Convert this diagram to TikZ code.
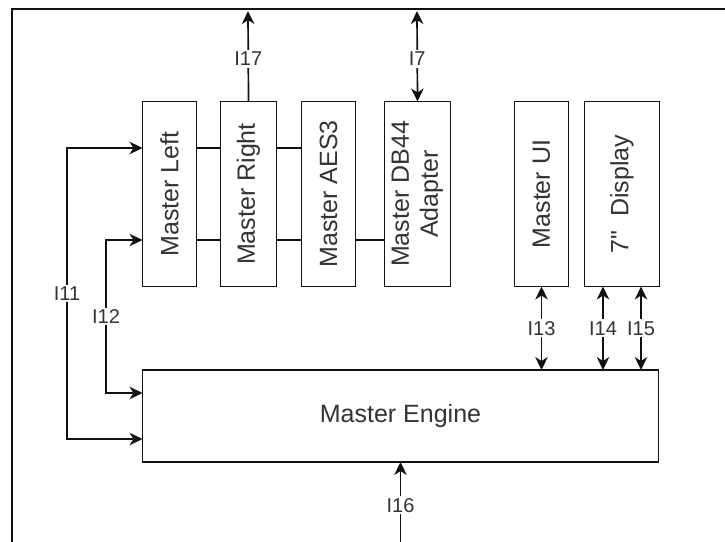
\documentclass[tikz,border=0pt]{standalone}
\usepackage{fontspec}
\setmainfont{Liberation Sans}[Ligatures=TeXOff]
\usepackage{graphicx}
\usetikzlibrary{arrows.meta,positioning}
\definecolor{hwInk}{HTML}{111111}
\definecolor{hwText}{HTML}{333333}
\tikzset{
  every picture/.style={font=\fontsize{25}{29}\selectfont, text=hwText},
  hw box/.style={draw=hwInk, line width=1.6pt, fill=white, align=center,
    inner sep=0pt, outer sep=0pt},
  hw tall/.style={hw box, minimum height=185pt},
  hw link/.style={draw=hwInk, line width=1.7pt},
  hw arrow/.style={hw link, -{Stealth[length=13pt,width=12.5pt,inset=4pt]}},
  hw both/.style={hw link, {Stealth[length=13pt,width=12.5pt,inset=4pt]}-{Stealth[length=13pt,width=12.5pt,inset=4pt]}},
  hw label/.style={fill=white, font=\fontsize{20}{24}\selectfont, inner sep=2pt},
  hw frame/.style={draw=hwInk, line width=2.5pt}
}

\begin{document}
\begin{tikzpicture}[x=1pt,y=-1pt]
  \useasboundingbox (0,0) rectangle (725,541);
  \draw[hw frame] (12,560) -- (12,9) -- (740,9);

  % top row of boards
  \node[hw tall, minimum width=54pt] (left) at (169.5,194) {\rotatebox{90}{Master Left}};
  \node[hw tall, minimum width=56pt, right=24pt of left] (right) {\rotatebox{90}{Master Right}};
  \node[hw tall, minimum width=54pt, right=25pt of right] (aes) {\rotatebox{90}{Master AES3}};
  \node[hw tall, minimum width=66pt, right=29pt of aes] (db) {\rotatebox{90}{\begin{tabular}{@{}c@{}}Master DB44\\Adapter\end{tabular}}};
  \node[hw tall, minimum width=54pt, right=64pt of db] (ui) {\rotatebox{90}{Master UI}};
  \node[hw tall, minimum width=75pt, right=16pt of ui] (disp) {\rotatebox{90}{7"\ \ Display}};
  \node[hw box, minimum width=516pt, minimum height=92pt] (engine) at (400.5,416) {Master Engine};

  \coordinate (rowA) at (0,148);
  \coordinate (rowB) at (0,240);
  \coordinate (engA) at (0,393);
  \coordinate (engB) at (0,439);
  \coordinate (bus11) at (67,0);
  \coordinate (bus12) at (106,0);
  \coordinate (out17) at (248,11);
  \coordinate (out7) at (417,11);
  \coordinate (in16) at (400.5,545);
  \coordinate (d14) at ([xshift=-19pt]disp.south);
  \coordinate (d15) at ([xshift=19pt]disp.south);

  % board to board
  \draw[hw link] (left.east |- rowA) -- (right.west |- rowA);
  \draw[hw link] (right.east |- rowA) -- (aes.west |- rowA);
  \draw[hw link] (left.east |- rowB) -- (right.west |- rowB);
  \draw[hw link] (right.east |- rowB) -- (aes.west |- rowB);
  \draw[hw link] (aes.east |- rowB) -- (db.west |- rowB);

  % interfaces
  \draw[hw arrow] (right.north) -- node[hw label, pos=0.47] (l17) {I17} (out17);
  \draw[hw both] (db.north) -- node[hw label, pos=0.47] (l7) {I7} (out7);
  \draw[hw both] (left.west |- rowA) -- (bus11 |- rowA) -- node[hw label] (l11) {I11} (bus11 |- engB) -- (engine.west |- engB);
  \draw[hw both] (left.west |- rowB) -- (bus12 |- rowB) -- node[hw label] (l12) {I12} (bus12 |- engA) -- (engine.west |- engA);
  \draw[hw both] (ui.south) -- node[hw label] (l13) {I13} (ui.south |- engine.north);
  \draw[hw both] (d14) -- node[hw label] (l14) {I14} (d14 |- engine.north);
  \draw[hw both] (d15) -- node[hw label] (l15) {I15} (d15 |- engine.north);
  \draw[hw arrow] (in16) -- node[hw label, pos=0.48] (l16) {I16} (in16 |- engine.south);
\end{tikzpicture}
\end{document}
